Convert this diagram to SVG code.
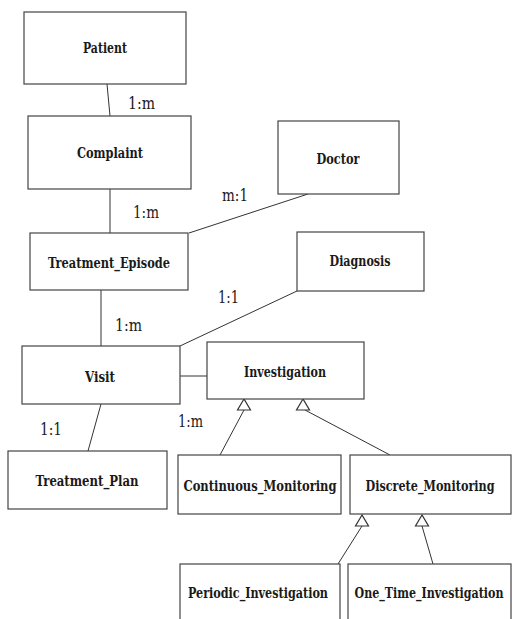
<svg xmlns="http://www.w3.org/2000/svg" width="512" height="619" viewBox="0 0 512 619">
<defs>
<style>
.box{fill:#fff;stroke:#444;stroke-width:1.2}
.t{font-family:'DejaVu Serif Condensed','DejaVu Serif',serif;font-stretch:condensed;font-weight:bold;font-size:14px;fill:#1a1a1a;text-anchor:middle}
.lbl{font-family:'DejaVu Serif',serif;font-size:16px;fill:#1a1a1a}
.ln{stroke:#333;stroke-width:1;fill:none}
.tri{fill:#fff;stroke:#333;stroke-width:1.2}
</style>
</defs>
<rect width="512" height="619" fill="#fff"/>
<g id="connectors">
<line class="ln" x1="107" y1="84" x2="110" y2="116"/>
<line class="ln" x1="110" y1="189" x2="110" y2="233"/>
<line class="ln" x1="308" y1="194" x2="189" y2="233"/>
<line class="ln" x1="101" y1="290" x2="101" y2="346"/>
<line class="ln" x1="297" y1="291" x2="180" y2="346"/>
<line class="ln" x1="180" y1="376" x2="207" y2="376"/>
<line class="ln" x1="101" y1="404" x2="88" y2="451"/>
<line class="ln" x1="244" y1="410" x2="220" y2="455"/>
<line class="ln" x1="305" y1="410" x2="390" y2="455"/>
<line class="ln" x1="362" y1="526" x2="338" y2="564"/>
<line class="ln" x1="422" y1="526" x2="433" y2="564"/>
<polygon class="tri" points="244,399 237.5,410 250.5,410"/>
<polygon class="tri" points="303,399 296.5,410 309.5,410"/>
<polygon class="tri" points="362,515 355.5,526 368.5,526"/>
<polygon class="tri" points="422,515 415.5,526 428.5,526"/>
<text class="lbl" x="128" y="109" textLength="27" lengthAdjust="spacingAndGlyphs">1:m</text>
<text class="lbl" x="222" y="201" textLength="26" lengthAdjust="spacingAndGlyphs">m:1</text>
<text class="lbl" x="133" y="218" textLength="26" lengthAdjust="spacingAndGlyphs">1:m</text>
<text class="lbl" x="115" y="331" textLength="27" lengthAdjust="spacingAndGlyphs">1:m</text>
<text class="lbl" x="218" y="303" textLength="21" lengthAdjust="spacingAndGlyphs">1:1</text>
<text class="lbl" x="40" y="435" textLength="22" lengthAdjust="spacingAndGlyphs">1:1</text>
<text class="lbl" x="178" y="427" textLength="25" lengthAdjust="spacingAndGlyphs">1:m</text>
</g>
<g id="patient"><rect class="box" x="24" y="12" width="162" height="72"/><text class="t" x="105" y="53" textLength="44" lengthAdjust="spacingAndGlyphs">Patient</text></g>
<g id="complaint"><rect class="box" x="28" y="116" width="163" height="73"/><text class="t" x="110" y="158" textLength="66" lengthAdjust="spacingAndGlyphs">Complaint</text></g>
<g id="doctor"><rect class="box" x="278" y="121" width="121" height="73"/><text class="t" x="338" y="164" textLength="43" lengthAdjust="spacingAndGlyphs">Doctor</text></g>
<g id="treatment_episode"><rect class="box" x="30" y="233" width="158" height="57"/><text class="t" x="109" y="268" textLength="122" lengthAdjust="spacingAndGlyphs">Treatment_Episode</text></g>
<g id="diagnosis"><rect class="box" x="297" y="232" width="127" height="59"/><text class="t" x="360" y="266" textLength="61" lengthAdjust="spacingAndGlyphs">Diagnosis</text></g>
<g id="visit"><rect class="box" x="22" y="346" width="158" height="58"/><text class="t" x="100" y="382" textLength="30" lengthAdjust="spacingAndGlyphs">Visit</text></g>
<g id="investigation"><rect class="box" x="207" y="342" width="157" height="57"/><text class="t" x="285" y="377" textLength="82" lengthAdjust="spacingAndGlyphs">Investigation</text></g>
<g id="treatment_plan"><rect class="box" x="8" y="451" width="159" height="58"/><text class="t" x="87" y="486" textLength="103" lengthAdjust="spacingAndGlyphs">Treatment_Plan</text></g>
<g id="continuous_monitoring"><rect class="box" x="178" y="455" width="163" height="59"/><text class="t" x="260" y="491" textLength="153" lengthAdjust="spacingAndGlyphs">Continuous_Monitoring</text></g>
<g id="discrete_monitoring"><rect class="box" x="350" y="455" width="161" height="59"/><text class="t" x="430" y="491" textLength="129" lengthAdjust="spacingAndGlyphs">Discrete_Monitoring</text></g>
<g id="periodic_investigation"><rect class="box" x="180" y="564" width="160" height="70"/><text class="t" x="258" y="598" textLength="140" lengthAdjust="spacingAndGlyphs">Periodic_Investigation</text></g>
<g id="one_time_investigation"><rect class="box" x="348" y="564" width="163" height="70"/><text class="t" x="429" y="598" textLength="149" lengthAdjust="spacingAndGlyphs">One_Time_Investigation</text></g>
</svg>
